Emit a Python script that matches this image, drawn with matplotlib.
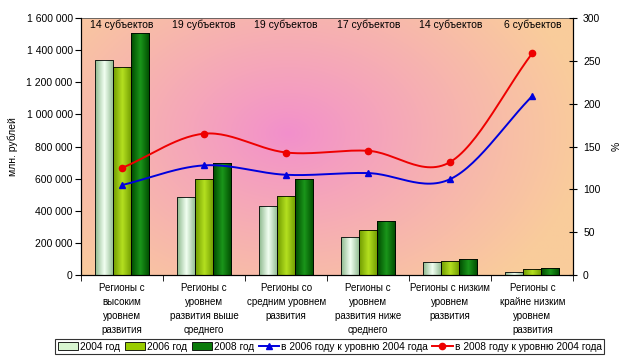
import matplotlib.pyplot as plt
import numpy as np
from matplotlib.ticker import FuncFormatter
from matplotlib.colors import LinearSegmentedColormap
from matplotlib.lines import Line2D
from matplotlib.patches import Patch

plt.rcParams['font.family'] = ['Liberation Sans', 'DejaVu Sans']

categories = ["Регионы с\nвысоким\nуровнем\nразвития",
              "Регионы с\nуровнем\nразвития выше\nсреднего",
              "Регионы со\nсредним уровнем\nразвития",
              "Регионы с\nуровнем\nразвития ниже\nсреднего",
              "Регионы с низким\nуровнем\nразвития",
              "Регионы с\nкрайне низким\nуровнем\nразвития"]
subjects = ["14 субъектов", "19 субъектов", "19 субъектов",
            "17 субъектов", "14 субъектов", "6 субъектов"]
v2004 = [1340000, 486000, 430000, 237000, 81000, 19000]
v2006 = [1295000, 598000, 492000, 280000, 87000, 37000]
v2008 = [1507000, 697000, 598000, 336000, 100000, 44000]
pct2006 = [105, 128, 117, 119, 112, 209]
pct2008 = [125, 165, 143, 145, 132, 259]


def smooth(x, y, n=30):
    # Catmull-Rom curve through the points, like Excel's smoothed line
    x = np.asarray(x, float)
    y = np.asarray(y, float)
    px = np.concatenate([[2 * x[0] - x[1]], x, [2 * x[-1] - x[-2]]])
    py = np.concatenate([[2 * y[0] - y[1]], y, [2 * y[-1] - y[-2]]])
    xs, ys = [], []
    for i in range(1, len(px) - 2):
        t = np.linspace(0, 1, n)
        for p, out in ((px, xs), (py, ys)):
            p0, p1, p2, p3 = p[i - 1], p[i], p[i + 1], p[i + 2]
            out.extend(0.5 * (2 * p1 + (-p0 + p2) * t
                              + (2 * p0 - 5 * p1 + 4 * p2 - p3) * t ** 2
                              + (-p0 + 3 * p1 - 3 * p2 + p3) * t ** 3))
    return np.array(xs), np.array(ys)


def shade_bars(ax, bars, edge, mid):
    # cylinder-like shading across every bar
    cmap = LinearSegmentedColormap.from_list('b', [edge, mid, edge])
    grad = np.linspace(0, 1, 64)[None, :]
    for b in bars:
        b.set_facecolor('none')
        x0, y0 = b.get_x(), b.get_y()
        im = ax.imshow(grad, cmap=cmap, aspect='auto', zorder=2,
                       extent=[x0, x0 + b.get_width(), y0, y0 + b.get_height()])
        im.set_clip_path(b)


fig = plt.figure(figsize=(6.28, 3.6), dpi=100)
ax = fig.add_axes([0.129, 0.236, 0.784, 0.714])
ax2 = ax.twinx()

# background gradient: peach at the edges, pink in the middle
gx, gy = np.meshgrid(np.linspace(0, 1, 200), np.linspace(0, 1, 200))
r = np.sqrt(((gx - 0.42) / 0.6) ** 2 + ((gy - 0.55) / 0.8) ** 2)
r = np.clip(r, 0, 1) ** 0.9
c_in = np.array([0.95, 0.56, 0.80])
c_out = np.array([0.98, 0.80, 0.61])
img = c_in[None, None, :] * (1 - r[..., None]) + c_out[None, None, :] * r[..., None]
ax.imshow(img, extent=[0, 1, 0, 1], transform=ax.transAxes, aspect='auto',
          zorder=0, origin='lower')

x = np.arange(len(categories))
w = 0.22
b1 = ax.bar(x - w, v2004, w, edgecolor='black', linewidth=0.6, zorder=3)
b2 = ax.bar(x, v2006, w, edgecolor='black', linewidth=0.6, zorder=3)
b3 = ax.bar(x + w, v2008, w, edgecolor='black', linewidth=0.6, zorder=3)
shade_bars(ax, b1, '#8cb88c', '#f2fff2')
shade_bars(ax, b2, '#6f9a00', '#b4e020')
shade_bars(ax, b3, '#004a00', '#1a961a')

ax.set_xlim(-0.5, len(categories) - 0.5)
ax.set_ylim(0, 1600000)
ax.set_yticks(np.arange(0, 1600001, 200000))
ax.yaxis.set_major_formatter(FuncFormatter(lambda v, p: f"{int(v):,}".replace(",", " ")))
ax.set_xticks(x)
ax.set_xticklabels(categories, fontsize=7, linespacing=1.5)
ax.set_xticks(np.arange(-0.5, len(categories)), minor=True)
ax.tick_params(axis='x', which='major', length=0, pad=6)
ax.tick_params(axis='x', which='minor', length=4, direction='out')
ax.tick_params(axis='y', labelsize=7.5, length=4, direction='out', pad=2)
ax.set_ylabel('млн. рублей', fontsize=7.5, labelpad=6)

for s in ['left', 'bottom', 'right']:
    ax.spines[s].set_color('black')
ax.spines['top'].set_color('#555555')
ax.spines['top'].set_linewidth(0.6)

for xi, s in zip(x, subjects):
    ax.text(xi, 1560000, s, ha='center', va='center', fontsize=7.5, zorder=4)

sx, sy = smooth(x, pct2006)
ax2.plot(sx, sy, color='#0000dd', lw=1.4, zorder=3)
ax2.plot(x, pct2006, color='#0000dd', lw=0, marker='^', ms=5, zorder=3)
sx, sy = smooth(x, pct2008)
ax2.plot(sx, sy, color='#ee0000', lw=1.4, zorder=3)
ax2.plot(x, pct2008, color='#ee0000', lw=0, marker='o', ms=4.5, zorder=3)

ax2.set_ylim(0, 300)
ax2.set_yticks(np.arange(0, 301, 50))
ax2.tick_params(axis='y', labelsize=7.5, length=6, direction='inout', pad=4)
ax2.set_ylabel('%', fontsize=7.5, labelpad=8)
ax2.spines['top'].set_visible(False)

# legend
handles = [Patch(facecolor='#d8f5d0', edgecolor='black', lw=0.6),
           Patch(facecolor='#99cc00', edgecolor='black', lw=0.6),
           Patch(facecolor='#0a7a0a', edgecolor='black', lw=0.6),
           Line2D([], [], color='#0000dd', marker='^', ms=5, lw=1.4),
           Line2D([], [], color='#ee0000', marker='o', ms=4.5, lw=1.4)]
labels = ['2004 год', '2006 год', '2008 год',
          'в 2006 году к уровню 2004 года', 'в 2008 году к уровню 2004 года']
leg = fig.legend(handles, labels, loc='center', bbox_to_anchor=(0.525, 0.0375),
                 ncol=5, fontsize=7.3, frameon=True, fancybox=False,
                 handlelength=2.0, handleheight=0.7, handletextpad=0.2,
                 columnspacing=0.45, borderpad=0.25, borderaxespad=0)
leg.get_frame().set_edgecolor('black')
leg.get_frame().set_linewidth(0.8)

fig.savefig('out.png', dpi=100)
